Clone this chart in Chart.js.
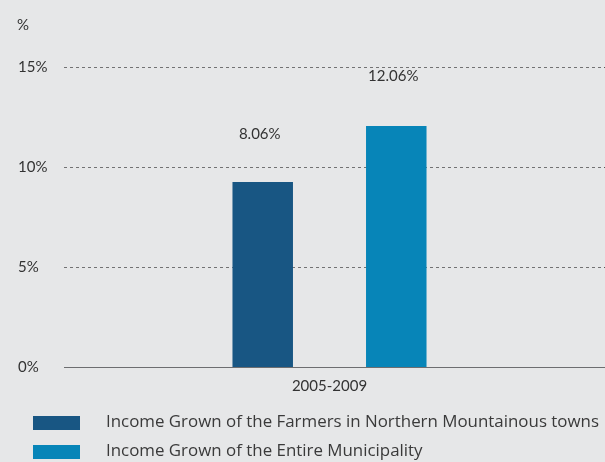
<!DOCTYPE html>
<html><head><meta charset="utf-8">
<script src="https://cdn.jsdelivr.net/npm/chart.js@4/dist/chart.umd.min.js"></script>
<style>
html,body{margin:0;padding:0;background:#e6e7e8;}
#wrap{position:relative;width:605px;height:462px;overflow:hidden;}
#c{position:absolute;left:0;top:0;}
.lg{position:absolute;left:0;font-family:"Open Sans",sans-serif;font-size:16.9px;color:#3a3a3a;white-space:nowrap;}
.lg span.box{position:absolute;left:33px;width:47px;height:14px;}
.lg span.txt{position:absolute;left:106px;}
</style></head>
<body><div id="wrap"><canvas id="c" width="605" height="462"></canvas>
<div id="legend"></div></div>
<script>
const categories = ["2005-2009"];
const seriesNames = ["Income Grown of the Farmers in Northern Mountainous towns", "Income Grown of the Entire Municipality"];
const seriesValues = [[9.25], [12.05]];
const valueLabels = [["8.06%"], ["12.06%"]];
const seriesColors = ["#185683", "#0785b8"];
const yTicks = [0, 5, 10, 15];

const legendTops = [414, 443];
const lg = document.getElementById('legend');
seriesNames.forEach((n, i) => {
  const d = document.createElement('div');
  d.className = 'lg';
  d.style.top = legendTops[i] + 'px';
  d.innerHTML = '<span class="box" style="top:2px;background:' + seriesColors[i] + '"></span><span class="txt" style="top:-5px">' + n + '</span>';
  lg.appendChild(d);
});

const gridPlugin = {
  id: 'gridPlugin',
  beforeDatasetsDraw(chart) {
    const ctx = chart.ctx, y = chart.scales.y, area = chart.chartArea;
    ctx.save();
    yTicks.forEach(v => {
      const py = Math.round(y.getPixelForValue(v)) + 0.5;
      ctx.beginPath();
      if (v === 0) { ctx.setLineDash([]); ctx.strokeStyle = '#6d6e70'; ctx.lineWidth = 1.2; }
      else { ctx.setLineDash([3, 3]); ctx.strokeStyle = '#555'; ctx.lineWidth = 0.8; }
      ctx.moveTo(area.left, py);
      ctx.lineTo(chart.width, py);
      ctx.stroke();
    });
    ctx.restore();
  },
  afterDatasetsDraw(chart) {
    const ctx = chart.ctx;
    ctx.save();
    ctx.font = '15px Lato, sans-serif';
    ctx.fillStyle = '#333';
    ctx.textAlign = 'center';
    ctx.textBaseline = 'middle';
    chart.data.datasets.forEach((ds, i) => {
      chart.getDatasetMeta(i).data.forEach((bar, j) => {
        ctx.fillText(valueLabels[i][j], bar.x - 3, bar.y - 48 - (i === 0 ? 0 : 2));
      });
    });
    ctx.font = '15px Lato, sans-serif';
    ctx.textAlign = 'left';
    ctx.fillText('%', 17, 25);
    ctx.restore();
  }
};

new Chart(document.getElementById('c'), {
  type: 'bar',
  data: {
    labels: categories,
    datasets: seriesNames.map((n, i) => ({
      label: n, data: seriesValues[i], backgroundColor: seriesColors[i],
      categoryPercentage: 0.503, barPercentage: 0.453
    }))
  },
  options: {
    responsive: false, animation: false,
    layout: { padding: { left: 18, right: 10, top: 67, bottom: 0 } },
    plugins: { legend: { display: false }, tooltip: { enabled: false } },
    scales: {
      x: {
        grid: { display: false, drawTicks: false },
        border: { display: false },
        ticks: { color: '#333', font: { family: 'Lato', size: 15 }, padding: 10 },
        afterFit(s) { s.height = 462 - 367; }
      },
      y: {
        min: 0, max: 15,
        afterBuildTicks(s) { s.ticks = yTicks.map(v => ({ value: v })); },
        grid: { display: false, drawTicks: false },
        border: { display: false },
        ticks: { crossAlign: 'far', color: '#333', font: { family: 'Lato', size: 15 }, callback: v => v + '%' },
        afterFit(s) { s.width = 46; }
      }
    }
  },
  plugins: [gridPlugin]
});
</script></body></html>
